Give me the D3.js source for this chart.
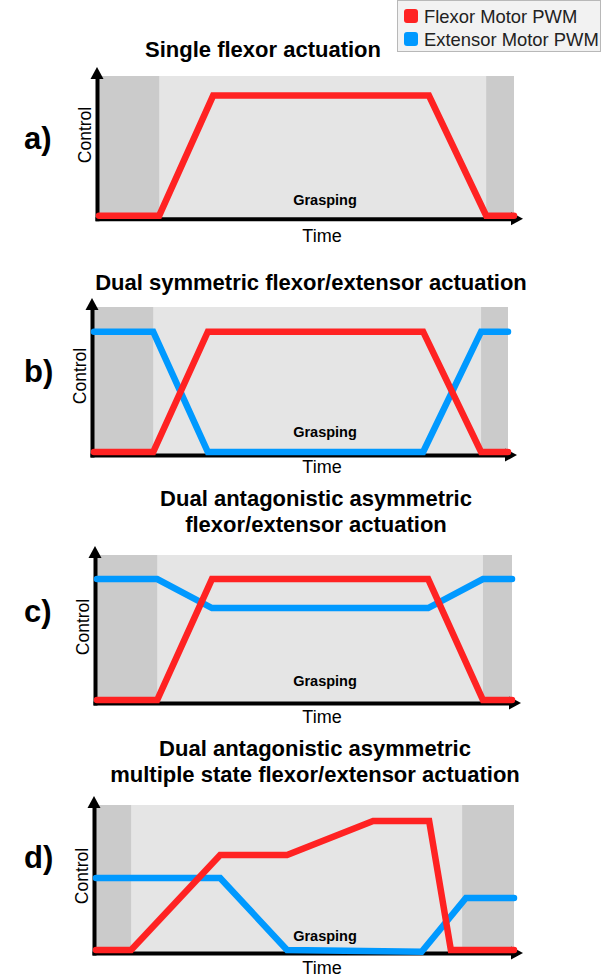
<!DOCTYPE html>
<html>
<head>
<meta charset="utf-8">
<script src="https://cdn.jsdelivr.net/npm/d3@7/dist/d3.min.js"></script>
<style>
  html, body { margin: 0; padding: 0; background: #ffffff; }
  svg { display: block; }
  text { font-family: "Liberation Sans", Arial, Helvetica, sans-serif; }
</style>
</head>
<body>
<svg id="chart" width="602" height="978"></svg>
<script>
// ---------------- DATA ----------------
const panelIds = ["a", "b", "c", "d"];
const panelTitles = [
  ["Single flexor actuation"],
  ["Dual symmetric flexor/extensor actuation"],
  ["Dual antagonistic asymmetric", "flexor/extensor actuation"],
  ["Dual antagonistic asymmetric", "multiple state flexor/extensor actuation"]
];
const seriesNames = ["Flexor Motor PWM", "Extensor Motor PWM"];
const xAxisLabel = "Time";
const yAxisLabel = "Control";
const phaseLabel = "Grasping";

// grasping phase (time, 0-100) per panel
const graspStart = [14.5, 14.3, 14.5, 8.4];
const graspEnd   = [93.3, 93.5, 93.0, 87.6];

// panel a
const timeA    = [0, 14.5, 27.5, 79.5, 93.3, 100];
const flexorA  = [0, 0, 0.86, 0.86, 0, 0];
// panel b
const timeB    = [0, 14.3, 27.5, 79.5, 93.5, 100];
const flexorB  = [0, 0, 0.83, 0.83, 0, 0];
const extensorB = [0.83, 0.83, 0, 0, 0.83, 0.83];
// panel c
const timeC    = [0, 14.5, 27.7, 79.8, 93.0, 100];
const flexorC  = [0, 0, 0.834, 0.834, 0, 0];
const extensorC = [0.834, 0.834, 0.634, 0.634, 0.834, 0.834];
// panel d
const timeDFlexor = [0, 8.4, 29.7, 45.7, 66.3, 79.7, 84.9, 100];
const flexorD     = [0, 0, 0.655, 0.655, 0.89, 0.89, 0, 0];
const timeDExtensor = [0, 29.7, 45.7, 77.9, 88.5, 100];
const extensorD     = [0.497, 0.497, 0, -0.012, 0.359, 0.359];

// ---------------- LAYOUT / STYLE ----------------
const colors = { flexor: "#ff2222", extensor: "#0099ff", light: "#e5e5e5", dark: "#cbcbcb" };
// per-panel geometry: left/right of shaded area, baseline y, top of shaded area
const layout = [
  { left: 99, right: 514, base: 215.7, top: 76,  titleX: 263, titleY: [57],       labelY: 149, ctrlX: 85, ctrlY: 135, timeY: 242, graspY: 205 },
  { left: 94, right: 508, base: 452,   top: 307, titleX: 311, titleY: [290],      labelY: 382, ctrlX: 80, ctrlY: 376, timeY: 473, graspY: 437 },
  { left: 97, right: 512, base: 700,   top: 555, titleX: 316, titleY: [506, 532], labelY: 622, ctrlX: 83, ctrlY: 627, timeY: 723, graspY: 686 },
  { left: 96, right: 514, base: 950,   top: 805, titleX: 315, titleY: [756, 782], labelY: 868, ctrlX: 82, ctrlY: 876, timeY: 974, graspY: 941 }
];

const seriesByPanel = [
  [ { t: timeA, v: flexorA, c: colors.flexor } ],
  [ { t: timeB, v: extensorB, c: colors.extensor }, { t: timeB, v: flexorB, c: colors.flexor } ],
  [ { t: timeC, v: extensorC, c: colors.extensor }, { t: timeC, v: flexorC, c: colors.flexor } ],
  [ { t: timeDExtensor, v: extensorD, c: colors.extensor }, { t: timeDFlexor, v: flexorD, c: colors.flexor } ]
];

const svg = d3.select("#chart");

layout.forEach((L, i) => {
  const x = d3.scaleLinear().domain([0, 100]).range([L.left, L.right]);
  const y = d3.scaleLinear().domain([0, 1]).range([L.base, L.top]);
  const g = svg.append("g");

  // shaded phases
  g.append("rect").attr("x", x(0)).attr("y", y(1)).attr("width", x(100) - x(0)).attr("height", y(0) - y(1) + 2)
    .attr("fill", colors.light);
  g.append("rect").attr("x", x(0)).attr("y", y(1)).attr("width", x(graspStart[i]) - x(0)).attr("height", y(0) - y(1) + 2)
    .attr("fill", colors.dark);
  g.append("rect").attr("x", x(graspEnd[i])).attr("y", y(1)).attr("width", x(100) - x(graspEnd[i])).attr("height", y(0) - y(1) + 2)
    .attr("fill", colors.dark);

  // axes (d3 axes with no ticks, thick domain lines)
  const axX = d3.scaleLinear().domain([0, 100]).range([L.left - 4, L.right + 3]);
  const gx = g.append("g").attr("transform", `translate(0,${L.base + 3})`)
    .call(d3.axisBottom(axX).ticks(0).tickSize(0).tickSizeOuter(0));
  gx.select(".domain").attr("stroke", "#000").attr("stroke-width", 4);
  const axY = d3.scaleLinear().domain([0, 1]).range([L.base + 5, L.top - 2]);
  const gy = g.append("g").attr("transform", `translate(${L.left - 2},0)`)
    .call(d3.axisLeft(axY).ticks(0).tickSize(0).tickSizeOuter(0));
  gy.select(".domain").attr("stroke", "#000").attr("stroke-width", 4);

  // arrowheads
  const ax = L.left - 2, ay = L.top - 9;
  g.append("path").attr("d", `M${ax},${ay} L${ax - 6.5},${ay + 12} L${ax + 6.5},${ay + 12} Z`).attr("fill", "#000");
  const bx = L.right + 9, by = L.base + 3;
  g.append("path").attr("d", `M${bx},${by} L${bx - 12},${by - 6.5} L${bx - 12},${by + 6.5} Z`).attr("fill", "#000");

  // series
  const line = d3.line().x(d => x(d[0])).y(d => y(d[1]));
  seriesByPanel[i].forEach(s => {
    g.append("path").datum(s.t.map((t, k) => [t, s.v[k]]))
      .attr("d", line).attr("fill", "none").attr("stroke", s.c)
      .attr("stroke-width", 6.5).attr("stroke-linecap", "round").attr("stroke-linejoin", "miter");
  });

  // texts
  panelTitles[i].forEach((t, k) => {
    svg.append("text").attr("x", L.titleX).attr("y", L.titleY[k]).attr("text-anchor", "middle")
      .attr("font-weight", "bold").attr("font-size", 22).attr("fill", "#000").text(t);
  });
  svg.append("text").attr("x", 24).attr("y", L.labelY).attr("font-weight", "bold")
    .attr("font-size", 31).attr("fill", "#000").text(panelIds[i] + ")");
  svg.append("text").attr("transform", `translate(${L.ctrlX + 6},${L.ctrlY}) rotate(-90)`)
    .attr("text-anchor", "middle").attr("font-size", 17.5).attr("fill", "#000").text(yAxisLabel);
  svg.append("text").attr("x", 322).attr("y", L.timeY).attr("text-anchor", "middle")
    .attr("font-size", 18).attr("fill", "#000").text(xAxisLabel);
  svg.append("text").attr("x", 325).attr("y", L.graspY).attr("text-anchor", "middle")
    .attr("font-weight", "bold").attr("font-size", 14.5).attr("fill", "#000").text(phaseLabel);
});

// legend
const leg = svg.append("g");
leg.append("rect").attr("x", 397.5).attr("y", 0.5).attr("width", 203).attr("height", 51)
  .attr("fill", "#f2f2f2").attr("stroke", "#b8b8b8").attr("stroke-width", 1);
[colors.flexor, colors.extensor].forEach((c, k) => {
  leg.append("rect").attr("x", 404).attr("y", 9 + k * 23).attr("width", 14).attr("height", 14)
    .attr("rx", 3).attr("fill", c);
  leg.append("text").attr("x", 424).attr("y", 22.5 + k * 23.5).attr("font-size", 18.4)
    .attr("fill", "#222").text(seriesNames[k]);
});
</script>
</body>
</html>
